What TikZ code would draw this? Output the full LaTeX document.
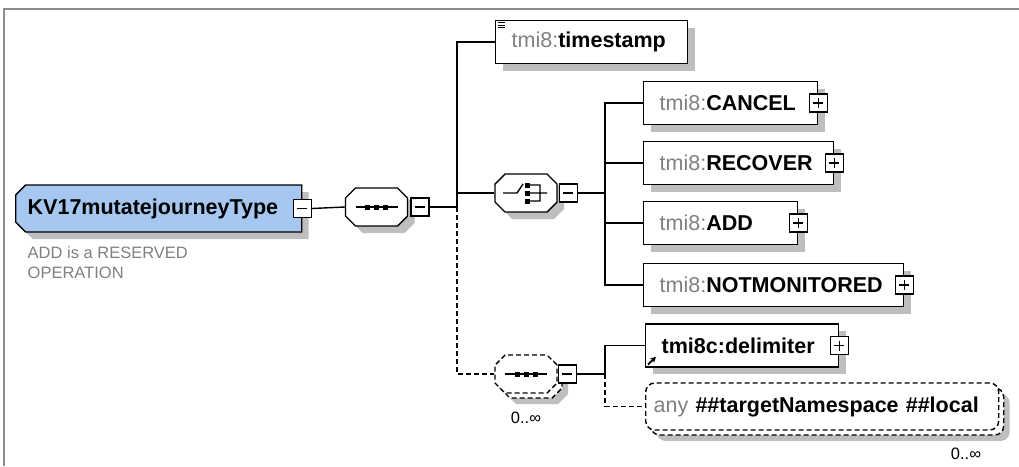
\documentclass[tikz,border=0pt]{standalone}
\usepackage{fontspec}
\setmainfont{Liberation Sans}
\usetikzlibrary{shapes.misc,shadows,arrows.meta}
\definecolor{typeblue}{RGB}{166,200,240}
\definecolor{pfxgray}{RGB}{128,128,128}
\definecolor{shadowgray}{RGB}{190,190,190}
\definecolor{framegray}{RGB}{140,140,140}
\newcommand\pfx[1]{\textcolor{pfxgray}{\mdseries #1}}

\begin{document}
\begin{tikzpicture}[x=1pt, y=-1pt, line width=1.4pt,
  bigfont/.style={font=\fontsize{21.5}{26}\selectfont},
  smallfont/.style={font=\fontsize{16.5}{20}\selectfont},
  optline/.style={dash pattern=on 5pt off 3pt},
  shade7/.style={drop shadow={shadow xshift=7pt, shadow yshift=-7pt, fill=shadowgray, opacity=1}},
  multi/.style={drop shadow={shadow xshift=11pt, shadow yshift=-11pt, fill=shadowgray, opacity=1},
    general shadow={shadow xshift=5pt, shadow yshift=-5pt, draw=black, fill=white, line width=1.4pt, optline}},
  box/.style={draw, fill=white, anchor=west, minimum height=43, align=left, bigfont},
  elem/.style={box, inner xsep=16, shade7},
  compositor/.style={draw, fill=white, chamfered rectangle, chamfered rectangle sep=5pt,
    inner xsep=26, inner ysep=14, minimum width=62, minimum height=38},
  signbox/.style={draw, fill=white, minimum size=18, inner sep=0, line width=1.3pt, solid},
  minusbox/.style={signbox, path picture={
    \draw ([xshift=4]path picture bounding box.west) -- ([xshift=-4]path picture bounding box.east);}},
  plusbox/.style={signbox, path picture={
    \draw ([xshift=4]path picture bounding box.west) -- ([xshift=-4]path picture bounding box.east)
          ([yshift=-4]path picture bounding box.north) -- ([yshift=4]path picture bounding box.south);}}
  ]
  \useasboundingbox (0,0) rectangle (1019,466);
  \draw[framegray, line width=2pt] (4,466) -- (4,9) -- (1019,9);

  \node[box, fill=typeblue, chamfered rectangle, chamfered rectangle sep=5pt,
    chamfered rectangle corners={north west,south west}, minimum height=47,
    inner xsep=7, text width=262, shade7] (kvtype) at (15,208.5) {\bfseries KV17mutatejourneyType};
  \node[minusbox] (kvminus) at (kvtype.east) {};
  \node[anchor=north west, inner sep=0, align=left, text=pfxgray, smallfont] (kvdoc) at (27,246)
    {ADD is a RESERVED\\OPERATION};

  \node[compositor, shade7] (seqa) at (376.5,207) {};
  \node[minusbox, anchor=west] (seqaminus) at ([xshift=2]seqa.east) {};

  \node[elem, text width=160] (timestamp) at (495,42) {\pfx{tmi8:}\textbf{timestamp}};
  \foreach \k in {3,5.5,8}
    \draw[line width=0.9pt] ([shift={(3,\k)}]timestamp.north west) -- ++(7,0);

  \node[compositor, shade7] (choice) at (526,193) {};
  \node[minusbox, anchor=west] (choiceminus) at ([xshift=1]choice.east) {};

  \node[elem, text width=142] (cancel) at (643,103) {\pfx{tmi8:}\textbf{CANCEL}};
  \node[elem, text width=158] (recover) at (643,163) {\pfx{tmi8:}\textbf{RECOVER}};
  \node[elem, text width=122] (add) at (643,223) {\pfx{tmi8:}\textbf{ADD}};
  \node[elem, text width=228] (notmon) at (643,285) {\pfx{tmi8:}\textbf{NOTMONITORED}};
  \foreach \n in {cancel,recover,add,notmon}
    \node[plusbox] (\n plus) at (\n.east) {};

  \node[compositor, optline, multi] (seqb) at (526,374) {};
  \node[minusbox, anchor=west] (seqbminus) at (seqb.east) {};
  \node[smallfont] (seqbmult) at (526,418) {0..∞};

  \foreach \s in {seqa,seqb} {
    \draw[shift={(\s.center)}] (-21,0) -- (21,0);
    \foreach \d in {-9,0,9}
      \fill[shift={(\s.center)}] (\d,0) +(-2.5,-2.5) rectangle +(2.5,2.5);
  }
  \draw[shift={(choice.center)}] (-23,0) -- (-9,0) -- (-3,-9)
    (4,-8) -- (14,-8) -- (14,8) -- (4,8) (4,0) -- (21,0);
  \foreach \d in {-8,0,8}
    \fill[shift={(choice.center)}] (1,\d) +(-2.5,-2.5) rectangle +(2.5,2.5);

  \node[elem, text width=161] (delimiter) at (645,345.5) {\textbf{tmi8c:delimiter}};
  \node[plusbox] (delimiterplus) at (delimiter.east) {};
  \draw[-{Stealth[length=6pt,width=6pt]}, line width=1.8pt]
    ([shift={(3,-3)}]delimiter.south west) -- ++(8,-8);

  \node[box, multi, optline, rounded corners=9pt, inner xsep=8, text width=337, minimum height=47]
    (any) at (645,406.5) {\pfx{any} \textbf{\#\#targetNamespace \#\#local}};
  \node[smallfont] (anymult) at (966,454) {0..∞};

  \coordinate (t1) at (457,207);
  \coordinate (t2) at (605,193);
  \coordinate (t3) at (605,374);

  \draw (kvminus.east) -- (seqa.west);
  \draw (seqaminus.east) -- (t1);
  \draw (timestamp.west) -| (t1);
  \draw (choice.west) -- (choice.west -| t1);
  \draw[optline] (t1) |- (seqb.west);

  \draw (choiceminus.east) -- (t2);
  \draw (cancel.west) -| (t2) |- (notmon.west);
  \draw (recover.west) -- (recover.west -| t2);
  \draw (add.west) -- (add.west -| t2);

  \draw (seqbminus.east) -- (t3);
  \draw (delimiter.west) -| (t3);
  \draw[optline] (t3) |- (any.west);
\end{tikzpicture}
\end{document}
